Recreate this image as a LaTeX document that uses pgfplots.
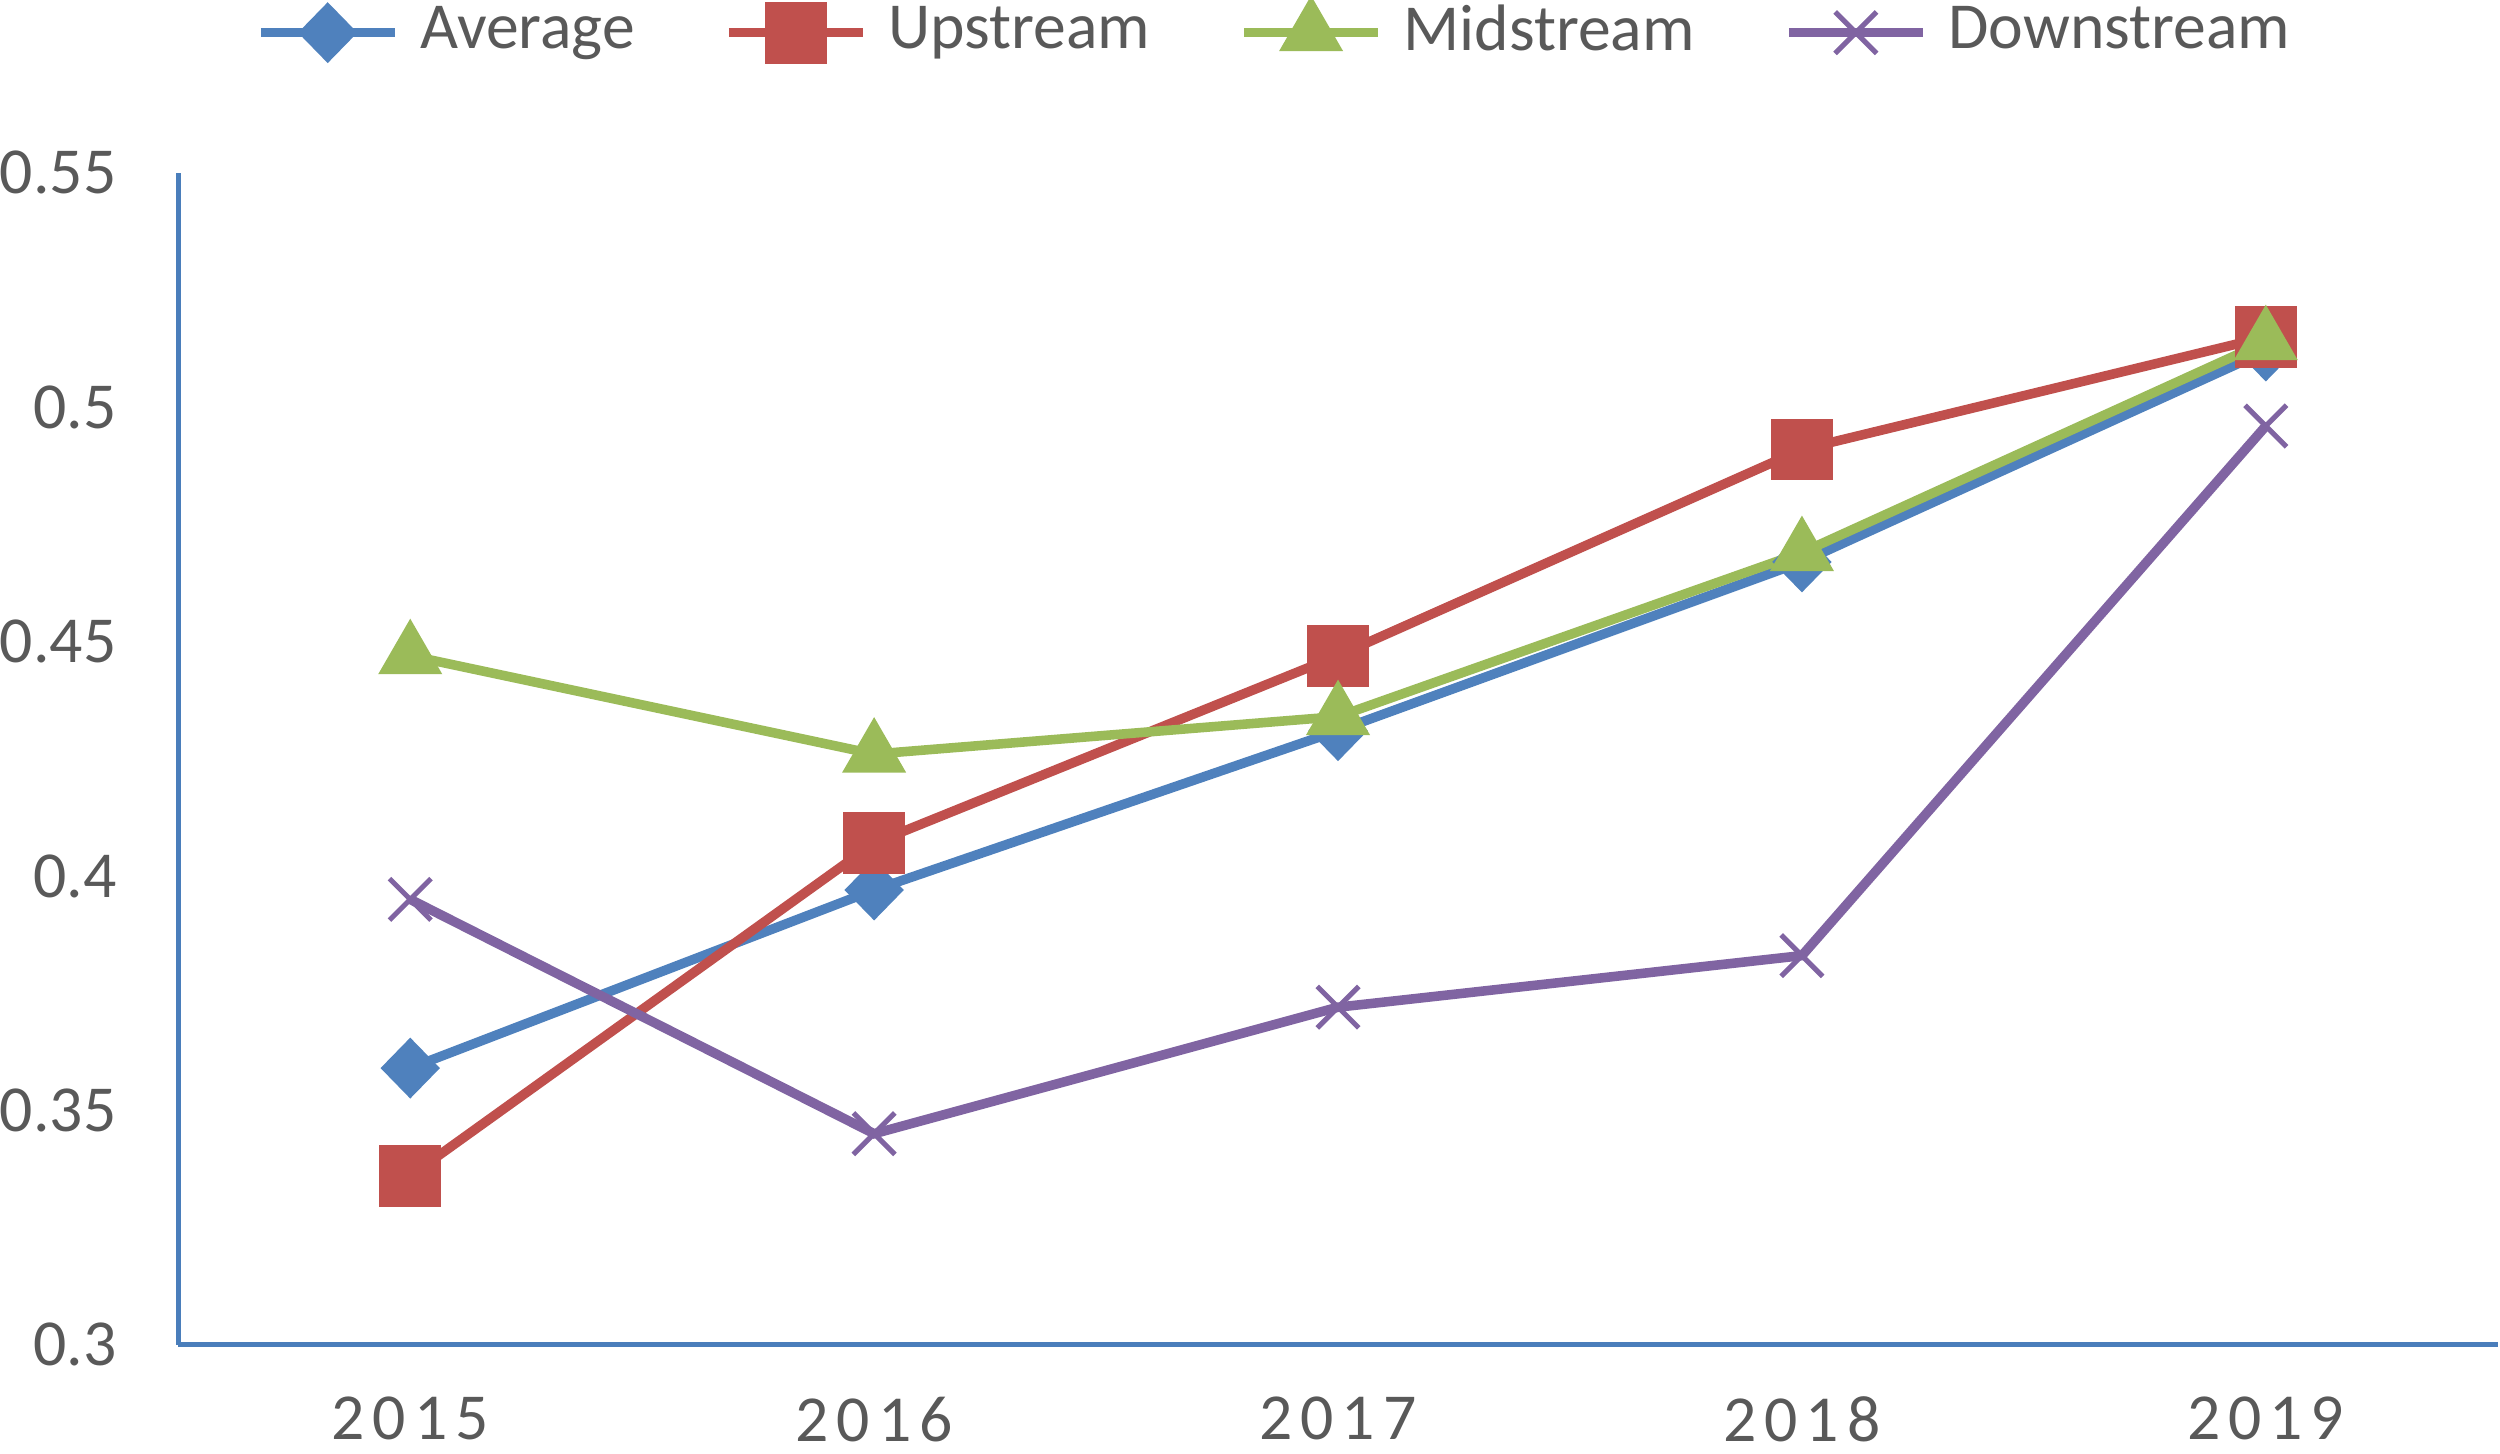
\documentclass[border=0pt]{standalone}
\usepackage{fontspec}
\setmainfont{Carlito}
\newfontfamily\spaced[LetterSpace=12]{Carlito}
\usepackage{pgfplots}
\pgfplotsset{compat=1.18}
\definecolor{cavg}{HTML}{4F81BD}
\definecolor{cup}{HTML}{C0504D}
\definecolor{cmid}{HTML}{9BBB59}
\definecolor{cdown}{HTML}{8064A2}
\definecolor{axblue}{HTML}{4A7EBB}
\definecolor{txt}{HTML}{595959}
\begin{document}
\begin{tikzpicture}
\begin{axis}[
  scale only axis,
  width=363.75pt, height=183.75pt,
  xmin=2014.5, xmax=2019.5,
  ymin=0.3, ymax=0.55,
  xtick={2015,2016,2017,2018,2019},
  xticklabels={2015,2016,2017,2018,2019},
  ytick={0.3,0.35,0.4,0.45,0.5,0.55},
  yticklabels={0.3,0.35,0.4,0.45,0.5,0.55},
  axis x line=bottom, axis y line=left,
  axis line style={-, draw=axblue, line width=0.7pt},
  major tick length=0pt,
  tick label style={font=\fontsize{10.3}{12}\selectfont, text=txt, inner sep=0pt},
  xticklabel style={font=\fontsize{10.3}{12}\spaced, inner ysep=1.8pt, yshift=-6.2pt},
  yticklabel style={xshift=-9.5pt},
  clip=false,
  legend columns=-1,
  legend style={draw=none, fill=none, at={(0.472,1)}, anchor=center, yshift=22pt,
    inner sep=0pt, inner ysep=0.8pt, nodes={inner sep=0pt},
    font=\fontsize{10.3}{12}\selectfont, text=txt,
    /tikz/every odd column/.append style={column sep=3.25pt},
    /tikz/every even column/.append style={column sep=14pt}},
  legend image code/.code={\draw[mark repeat=2,mark phase=2] plot coordinates {(0pt,0pt)(10.5pt,0pt)(21pt,0pt)};},
  every axis plot/.append style={line width=1.5pt},
]
\addplot[color=cavg, mark=diamond*, mark size=3.7pt, mark options={solid, xscale=1.3}] coordinates {
  (2015,0.359) (2016,0.397) (2017,0.431) (2018,0.467) (2019,0.512)};
\addlegendentry{Average}
\addplot[color=cup, mark=square*, mark size=4.1pt] coordinates {
  (2015,0.336) (2016,0.407) (2017,0.447) (2018,0.491) (2019,0.515)};
\addlegendentry{Upstream}
\addplot[color=cmid, mark=triangle*, mark size=4.3pt] coordinates {
  (2015,0.447) (2016,0.426) (2017,0.434) (2018,0.469) (2019,0.514)};
\addlegendentry{Midstream}
\addplot[color=cdown, mark=x, mark size=4.6pt, mark options={line width=0.8pt}] coordinates {
  (2015,0.395) (2016,0.345) (2017,0.372) (2018,0.383) (2019,0.496)};
\addlegendentry{Downstream}
\end{axis}
\end{tikzpicture}
\end{document}
